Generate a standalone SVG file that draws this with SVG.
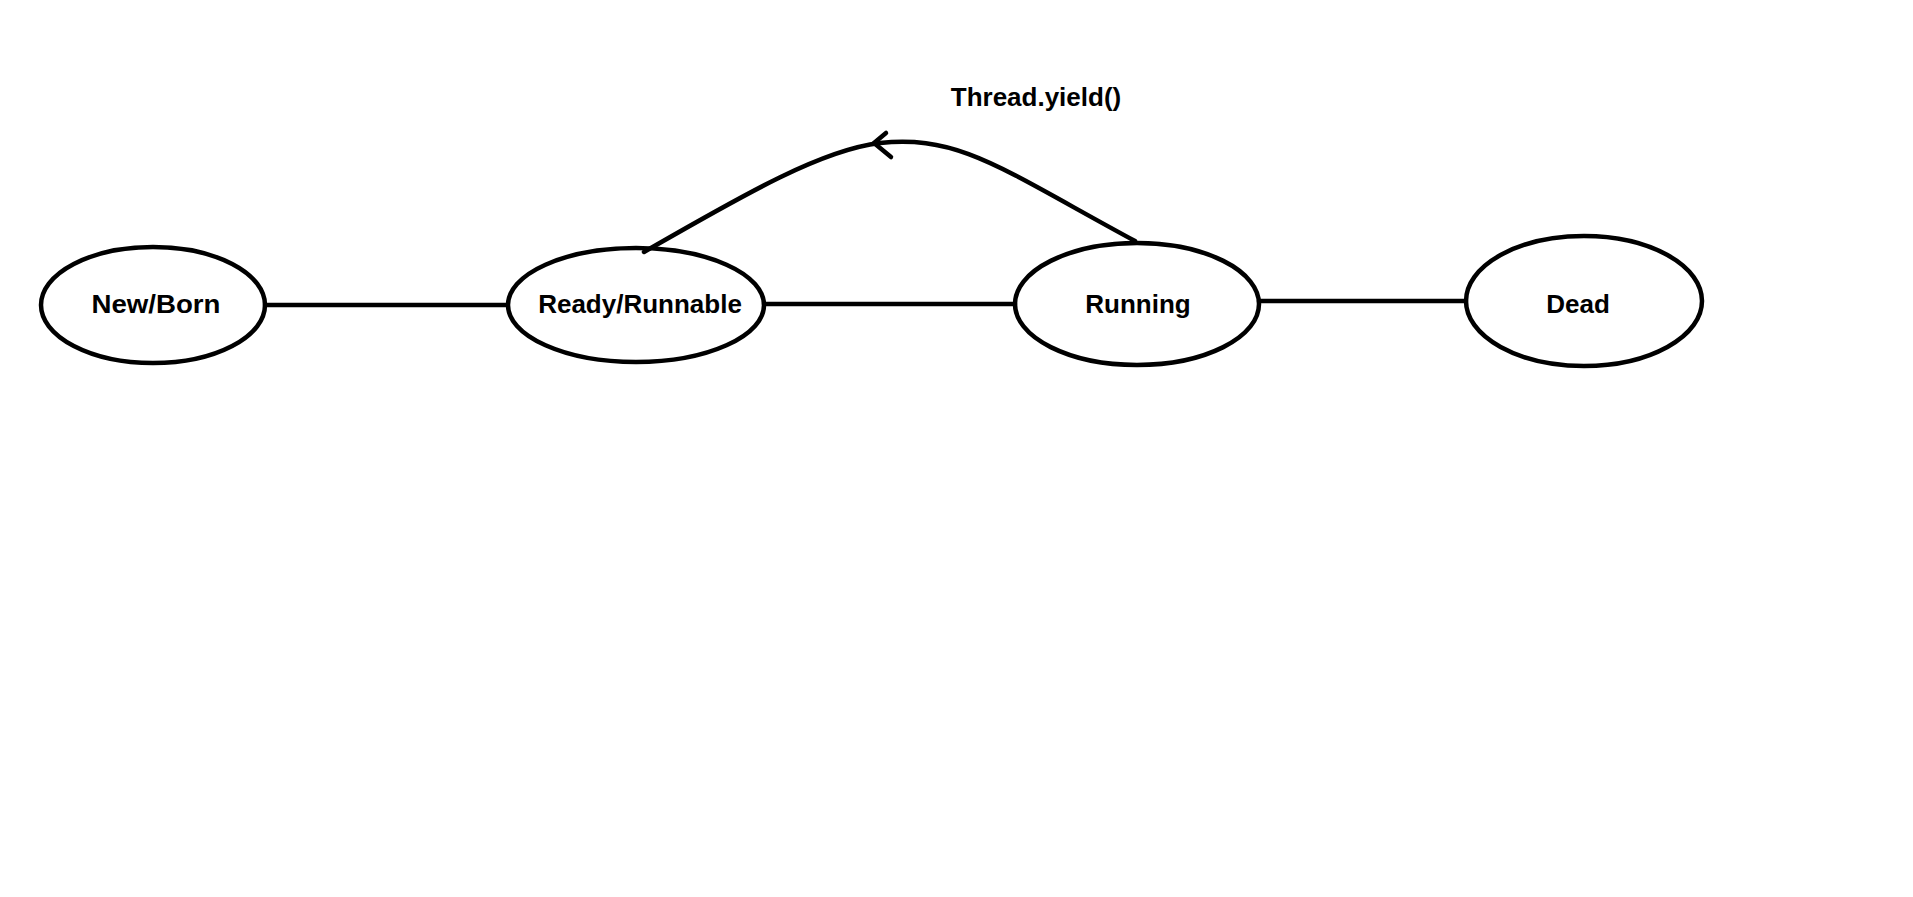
<svg xmlns="http://www.w3.org/2000/svg" width="1913" height="897" viewBox="0 0 1913 897">
<style>
.node ellipse{fill:none;stroke:#000;stroke-width:4.5}
.node text,.lbl{font-family:"Liberation Sans",Arial,sans-serif;font-weight:bold;font-size:26px;fill:#000;text-anchor:middle}
.conn path,.conn line{fill:none;stroke:#000;stroke-width:4.5;stroke-linecap:round}
</style>
<rect width="1913" height="897" fill="#fff"/>
<g id="connectors" class="conn">
<line x1="265" y1="305" x2="507" y2="305"/>
<line x1="764" y1="304" x2="1015" y2="304"/>
<line x1="1259" y1="301" x2="1466" y2="301"/>
<path d="M644 252 C 740 197, 820 150, 880 143 C 960 135, 1000 168, 1135 241"/>
<path d="M886 133 L874 143 L891 157"/>
</g>
<g id="node-newborn" class="node"><ellipse cx="153" cy="305" rx="112" ry="58"/><text x="156" y="313" textLength="129" lengthAdjust="spacingAndGlyphs">New/Born</text></g>
<g id="node-ready" class="node"><ellipse cx="636" cy="305" rx="128" ry="57"/><text x="640" y="313">Ready/Runnable</text></g>
<g id="node-running" class="node"><ellipse cx="1137" cy="304" rx="122" ry="61"/><text x="1138" y="313">Running</text></g>
<g id="node-dead" class="node"><ellipse cx="1584" cy="301" rx="118" ry="65"/><text x="1578" y="313">Dead</text></g>
<text class="lbl" x="1036" y="106">Thread.yield()</text>
</svg>
